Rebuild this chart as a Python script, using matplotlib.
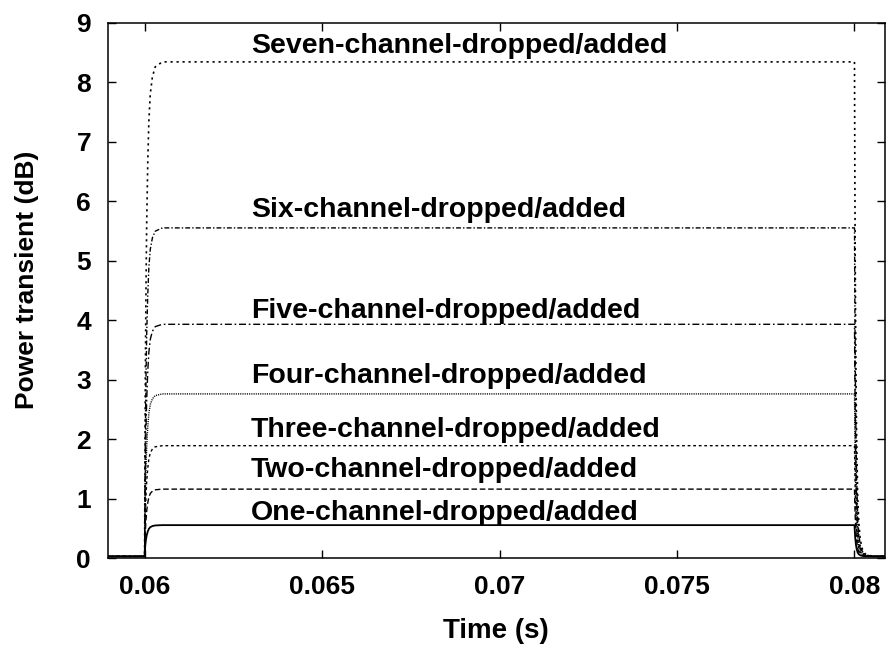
import numpy as np
import matplotlib
matplotlib.use("Agg")
import matplotlib.pyplot as plt

plt.rcParams['font.family'] = ['Liberation Sans', 'DejaVu Sans']
plt.rcParams['font.weight'] = 'bold'

# steady-state power transient of each case (dB)
names = ["One-channel-dropped/added", "Two-channel-dropped/added",
         "Three-channel-dropped/added", "Four-channel-dropped/added",
         "Five-channel-dropped/added", "Six-channel-dropped/added",
         "Seven-channel-dropped/added"]
levels = [0.555, 1.16, 1.89, 2.76, 3.93, 5.55, 8.34]
label_y = [0.64, 1.37, 2.03, 2.95, 4.03, 5.73, 8.49]
baseline = 0.03

t_drop = 0.06
t_add = 0.08
# normalised rise after the drop and decay after the add (time offsets in s)
rise_dt = [0.0, 0.00001, 0.00002, 0.00004, 0.00006, 0.00009, 0.00012, 0.00016, 0.00022, 0.0003, 0.0005]
rise_frac = [0.0, 0.2, 0.36, 0.55, 0.68, 0.8, 0.88, 0.935, 0.97, 0.99, 1.0]
fall_dt = [0.0, 0.00001, 0.00002, 0.00004, 0.00006, 0.00009, 0.00012, 0.00016, 0.00022, 0.0003, 0.0005]
fall_frac = [1.0, 0.78, 0.6, 0.38, 0.24, 0.12, 0.07, 0.035, 0.015, 0.005, 0.0]

styles = ['-', (0, (4, 2)), (0, (2, 2)), (0, (0.8, 0.8)),
          (0, (5, 2, 1.2, 2)), (0, (3.5, 1.5, 1, 1.5)), (0, (1.3, 2.3))]
widths = [1.3, 1.0, 1.0, 1.0, 1.0, 1.0, 1.2]

fig = plt.figure(figsize=(8.9, 6.46), dpi=100)
ax = fig.add_axes([0.121, 0.136, 0.873, 0.829])

for name, lv, ly, ls, lw in zip(names, levels, label_y, styles, widths):
    t = np.concatenate([[0.0589], t_drop + np.array(rise_dt),
                        t_add + np.array(fall_dt), [0.081]])
    y = np.concatenate([[baseline], baseline + (lv - baseline) * np.array(rise_frac),
                        baseline + (lv - baseline) * np.array(fall_frac), [baseline]])
    ax.plot(t, y, color='black', linestyle=ls, linewidth=lw)
    ax.text(0.0630, ly, name, fontsize=20.5, fontweight='bold', va='baseline', ha='left')

ax.set_xlim(0.05896, 0.08085)
ax.set_ylim(0, 9)
ax.set_xticks([0.06, 0.065, 0.07, 0.075, 0.08])
ax.set_xticklabels(['0.06', '0.065', '0.07', '0.075', '0.08'])
ax.set_yticks(range(10))
ax.tick_params(direction='in', top=True, right=True, length=6, width=1.0, labelsize=19)
ax.tick_params(axis='y', pad=12)
ax.tick_params(axis='x', pad=12)
for sp in ax.spines.values():
    sp.set_linewidth(1.1)

ax.set_xlabel('Time (s)', fontsize=20, fontweight='bold', labelpad=14)
ax.set_ylabel('Power transient (dB)', fontsize=19, fontweight='bold')
ax.yaxis.set_label_coords(-0.088, 0.52)

fig.savefig('out.png', dpi=100)
